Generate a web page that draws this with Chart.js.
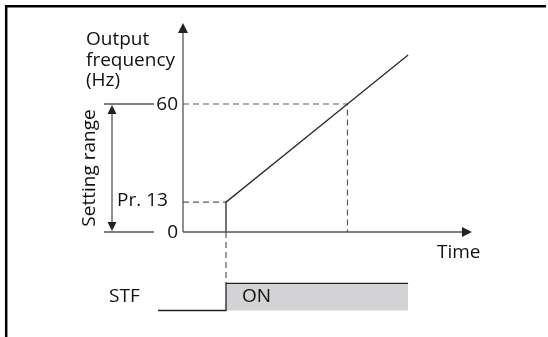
<!DOCTYPE html>
<html><head><meta charset="utf-8">
<script src="https://cdn.jsdelivr.net/npm/chart.js@4/dist/chart.umd.min.js"></script>
<style>html,body{margin:0;padding:0;background:#fff}#wrap{width:548px;height:337px;position:relative}</style>
</head><body><div id="wrap"><canvas id="c" width="548" height="337"></canvas></div>
<script>
// ---- data ----
const timeRamp = [2.0, 2.0, 7.65, 10.47];   // time points of the output frequency trace
const freqRamp = [0, 14, 60, 83];           // output frequency (Hz)
const signalTime = [-1.16, 2.0, 2.0, 10.47];// STF signal time points
const signalLevel = [0, 0, 1, 1];           // STF level (0 = off, 1 = ON)
const yTickValues = [0, 60];
const yTickLabels = ['0', '60'];
const prLevel = 14;       // Pr. 13 starting frequency
const setFreq = 60;       // set frequency
const axisEnds = [13.44, 98]; // time axis end, frequency axis end
const yTitle = ['Output', 'frequency', '(Hz)'];
const xTitle = 'Time';
const rangeLabel = 'Setting range';
const prLabel = 'Pr. 13';
const signalLabel = 'STF';
const onLabel = 'ON';

const FONT = '19px "Open Sans", "Liberation Sans", sans-serif';

function arrowHead(ctx, x, y, dir, len, half, color) {
  ctx.save();
  ctx.fillStyle = color;
  ctx.beginPath();
  if (dir === 'up') { ctx.moveTo(x, y); ctx.lineTo(x - half, y + len); ctx.lineTo(x + half, y + len); }
  if (dir === 'down') { ctx.moveTo(x, y); ctx.lineTo(x - half, y - len); ctx.lineTo(x + half, y - len); }
  if (dir === 'right') { ctx.moveTo(x, y); ctx.lineTo(x - len, y - half); ctx.lineTo(x - len, y + half); }
  ctx.closePath();
  ctx.fill();
  ctx.restore();
}

const diagram = {
  id: 'diagram',
  beforeDatasetsDraw(chart) {
    const ctx = chart.ctx, X = chart.scales.x, Y = chart.scales.y, S = chart.scales.ys;
    ctx.save();
    // border frame
    ctx.strokeStyle = '#000'; ctx.lineWidth = 2.5;
    ctx.beginPath(); ctx.moveTo(6.2, 340); ctx.lineTo(6.2, 6.2); ctx.lineTo(546, 6.2); ctx.stroke();
    // dashed guides
    ctx.strokeStyle = '#5a5a5a'; ctx.lineWidth = 1.2; ctx.setLineDash([6, 4]);
    const x0 = X.getPixelForValue(0);
    ctx.beginPath();
    ctx.moveTo(x0, Y.getPixelForValue(prLevel)); ctx.lineTo(X.getPixelForValue(timeRamp[1]), Y.getPixelForValue(prLevel));
    ctx.moveTo(x0, Y.getPixelForValue(setFreq)); ctx.lineTo(X.getPixelForValue(timeRamp[2]), Y.getPixelForValue(setFreq));
    ctx.lineTo(X.getPixelForValue(timeRamp[2]), Y.getPixelForValue(0));
    ctx.moveTo(X.getPixelForValue(timeRamp[0]), Y.getPixelForValue(0));
    ctx.lineTo(X.getPixelForValue(timeRamp[0]), S.getPixelForValue(1));
    ctx.stroke();
    ctx.restore();
  },
  afterDatasetsDraw(chart) {
    const ctx = chart.ctx, X = chart.scales.x, Y = chart.scales.y;
    const x0 = X.getPixelForValue(0), y0 = Y.getPixelForValue(0);
    const axisCol = '#555';
    ctx.save();
    ctx.strokeStyle = axisCol; ctx.lineWidth = 1.3;
    const yTop = Y.getPixelForValue(axisEnds[1]);
    const xEnd = X.getPixelForValue(axisEnds[0]);
    ctx.beginPath();
    ctx.moveTo(x0, y0); ctx.lineTo(x0, yTop + 8);
    ctx.moveTo(x0, y0); ctx.lineTo(xEnd - 8, y0);
    ctx.stroke();
    arrowHead(ctx, x0, yTop, 'up', 10, 5, '#222');
    arrowHead(ctx, xEnd, y0, 'right', 10, 5, '#222');
    // left tick lines and labels
    ctx.font = FONT; ctx.fillStyle = '#111'; ctx.textAlign = 'right'; ctx.textBaseline = 'middle';
    yTickValues.forEach((v, i) => {
      const py = Y.getPixelForValue(v);
      ctx.beginPath(); ctx.moveTo(x0 - 79, py); ctx.lineTo(x0 - 29, py); ctx.stroke();
      ctx.fillText(yTickLabels[i], x0 - 5, py + 1);
    });
    // setting range double arrow
    const ax = x0 - 71, pTop = Y.getPixelForValue(setFreq), pBot = y0;
    ctx.beginPath(); ctx.moveTo(ax, pTop + 8); ctx.lineTo(ax, pBot - 8); ctx.stroke();
    arrowHead(ctx, ax, pTop + 1, 'up', 9, 4.5, '#222');
    arrowHead(ctx, ax, pBot - 1, 'down', 9, 4.5, '#222');
    // texts
    ctx.textAlign = 'left'; ctx.textBaseline = 'alphabetic';
    yTitle.forEach((t, i) => ctx.fillText(t, x0 - 97, 45 + i * 20.5));
    ctx.fillText(prLabel, x0 - 66, Y.getPixelForValue(prLevel) + 4);
    ctx.fillText(xTitle, xEnd - 35, y0 + 26);
    ctx.textBaseline = 'middle';
    ctx.fillText(signalLabel, x0 - 74, 297);
    ctx.fillText(onLabel, X.getPixelForValue(timeRamp[0]) + 16, 297);
    ctx.save();
    ctx.translate(x0 - 93, (pTop + pBot) / 2);
    ctx.rotate(-Math.PI / 2);
    ctx.textAlign = 'center';
    ctx.fillText(rangeLabel, 0, 0);
    ctx.restore();
    ctx.restore();
  }
};

new Chart(document.getElementById('c'), {
  type: 'line',
  data: {
    datasets: [
      {
        data: timeRamp.map((t, i) => ({x: t, y: freqRamp[i]})),
        yAxisID: 'y', borderColor: '#2a2a2a', borderWidth: 1.3,
        pointRadius: 0, tension: 0, fill: false
      },
      {
        data: signalTime.map((t, i) => ({x: t, y: signalLevel[i]})),
        yAxisID: 'ys', borderColor: '#222', borderWidth: 1.3,
        pointRadius: 0, tension: 0, fill: {value: 0}, backgroundColor: '#d3d3d5'
      }
    ]
  },
  options: {
    responsive: false, animation: false, devicePixelRatio: 1,
    layout: {padding: 0},
    scales: {
      x: {type: 'linear', min: -8.512, max: 16.977, display: false},
      y: {type: 'linear', min: -49.22, max: 108.75, display: false},
      ys: {type: 'linear', min: -0.974, max: 11.415, display: false}
    },
    plugins: {legend: {display: false}, tooltip: {enabled: false}}
  },
  plugins: [diagram]
});
</script>
</body></html>
